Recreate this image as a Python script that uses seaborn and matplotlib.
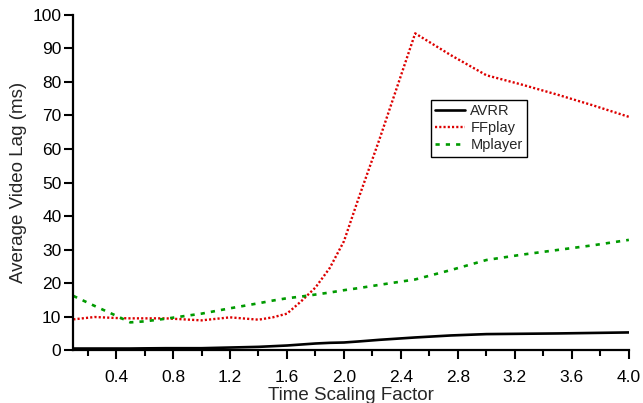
import numpy as np
import pandas as pd
import matplotlib
matplotlib.use("Agg")
import matplotlib.pyplot as plt
import seaborn as sns
from matplotlib.ticker import MultipleLocator

# ---- data ----
scale_factor = [0.1, 0.25, 0.4, 0.5, 0.6, 0.75, 1.0, 1.2, 1.4, 1.5, 1.6, 1.7,
                1.8, 1.9, 2.0, 2.1, 2.25, 2.5, 2.75, 3.0, 3.25, 3.5, 3.75, 4.0]
avrr = [0.5, 0.5, 0.5, 0.5, 0.55, 0.6, 0.6, 0.8, 1.0, 1.2, 1.4, 1.7,
        2.0, 2.2, 2.3, 2.6, 3.1, 3.8, 4.4, 4.8, 4.9, 5.0, 5.15, 5.3]
ffplay = [9.2, 9.9, 9.6, 9.5, 9.5, 9.5, 8.9, 9.8, 9.1, 9.8, 10.9, 14.6,
          18.7, 24.5, 32.5, 45.0, 63.0, 94.5, 88.0, 82.0, 79.2, 76.2, 73.0, 69.6]
mplayer = [16.2, 13.2, 10.3, 8.3, 8.6, 9.4, 10.9, 12.5, 14.0, 14.8, 15.5, 16.0,
           16.6, 17.2, 17.9, 18.5, 19.5, 21.1, 23.9, 26.9, 28.5, 29.9, 31.3, 32.9]
series_names = ["AVRR", "FFplay", "Mplayer"]
x_ticks = [0.4, 0.8, 1.2, 1.6, 2.0, 2.4, 2.8, 3.2, 3.6, 4.0]
y_ticks = [0, 10, 20, 30, 40, 50, 60, 70, 80, 90, 100]

sns.set_style("ticks")
plt.rcParams["font.family"] = ["Liberation Sans", "DejaVu Sans"]

df = pd.DataFrame({"x": scale_factor, "AVRR": avrr, "FFplay": ffplay, "Mplayer": mplayer})

fig = plt.figure(figsize=(6.43, 4.03), dpi=100)
ax = fig.add_axes([0.114, 0.131, 0.864, 0.832])

sns.lineplot(data=df, x="x", y="AVRR", ax=ax, color="black", linewidth=1.9,
             label=series_names[0])
sns.lineplot(data=df, x="x", y="FFplay", ax=ax, color="#dd0000", linewidth=1.7,
             label=series_names[1])
sns.lineplot(data=df, x="x", y="Mplayer", ax=ax, color="#009a00", linewidth=1.9,
             label=series_names[2])
lines = ax.get_lines()
lines[1].set_dashes((0.9, 0.9))
lines[2].set_dashes((1.6, 2.3))

ax.set_xlim(0.1, 4.0)
ax.set_ylim(0, 100)
ax.set_xticks(x_ticks)
ax.set_xticklabels([f"{v:.1f}" for v in x_ticks])
ax.xaxis.set_minor_locator(MultipleLocator(0.2))
ax.set_yticks(y_ticks)
ax.set_yticklabels([str(v) for v in y_ticks])

ax.tick_params(axis="both", which="major", direction="out", length=6.5, width=1.5,
               labelsize=12.5, color="black", labelcolor="black")
ax.tick_params(axis="x", which="minor", direction="out", length=4, width=1.5, color="black")
ax.tick_params(axis="x", which="major", pad=8)
ax.tick_params(axis="y", which="major", pad=2)

for side in ["top", "right"]:
    ax.spines[side].set_visible(False)
for side in ["left", "bottom"]:
    ax.spines[side].set_linewidth(1.6)
    ax.spines[side].set_color("black")

ax.set_xlabel("Time Scaling Factor", fontsize=13.5, labelpad=1)
ax.set_ylabel("Average Video Lag (ms)", fontsize=13.5, labelpad=4)

leg = ax.legend(loc="upper left", bbox_to_anchor=(0.644, 0.746), fontsize=10.5,
                frameon=True, fancybox=False, handlelength=2.0, handletextpad=0.4,
                borderpad=0.3, labelspacing=0.2, borderaxespad=0)
leg.get_frame().set_edgecolor("black")
leg.get_frame().set_linewidth(1.0)
leg.get_frame().set_alpha(1)

fig.savefig("out.png", dpi=100)
